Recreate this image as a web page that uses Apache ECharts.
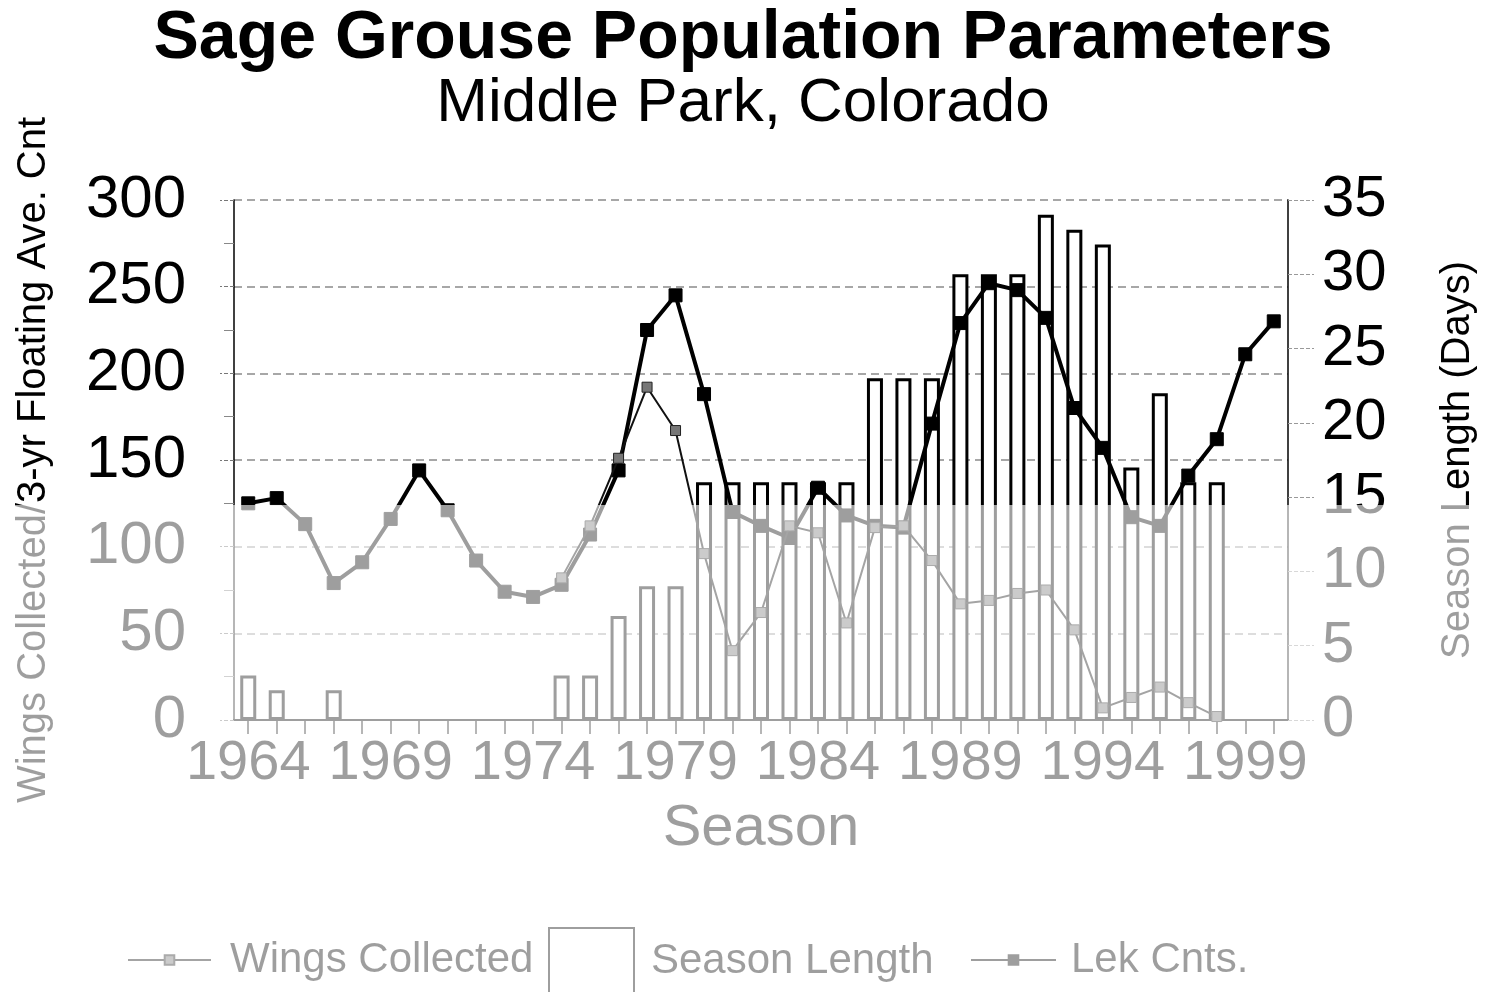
<!DOCTYPE html>
<html>
<head>
<meta charset="utf-8">
<script src="https://cdn.jsdelivr.net/npm/echarts@6/dist/echarts.min.js"></script>
<style>
html,body{margin:0;padding:0;background:#fff;}
#chart{width:1486px;height:992px;}
</style>
</head>
<body>
<div id="chart"></div>
<script>
var seasons = ['1964','1965','1966','1967','1968','1969','1970','1971','1972','1973','1974','1975','1976','1977','1978','1979','1980','1981','1982','1983','1984','1985','1986','1987','1988','1989','1990','1991','1992','1993','1994','1995','1996','1997','1998','1999','2000'];
var seasonLength = [3,2,null,2,null,null,null,null,null,null,null,3,3,7,9,9,16,16,16,16,16,16,23,23,23,30,30,30,34,33,32,17,22,16,16,null,null];
var lekCnts = [125,128,113,79,91,116,144,121,92,74,71,78,107,144,225,245,188,120,112,105,134,118,112,111,171,229,252,248,232,180,157,117,112,141,162,211,230];
var wingsCollected = [null,null,null,null,null,null,null,null,null,null,null,82,112,151,192,167,96,40,62,112,108,56,111,112,92,67,69,73,75,52,7,13,19,10,2,null,null];

var FONT = 'Liberation Sans, Arial, sans-serif';
var chart = echarts.init(document.getElementById('chart'));
var option = {
  backgroundColor: '#fff',
  animation: false,
  title: {
    text: 'Sage Grouse Population Parameters',
    subtext: 'Middle Park, Colorado',
    left: 'center',
    top: 0,
    itemGap: 0,
    textStyle: {fontFamily: FONT, fontSize: 68, fontWeight: 'bold', color: '#000'},
    subtextStyle: {fontFamily: FONT, fontSize: 62, color: '#000'}
  },
  legend: [
    {data: ['Wings Collected'], left: 122, top: 934, itemWidth: 83, itemHeight: 12,
     textStyle: {fontFamily: FONT, fontSize: 42, color: '#000', padding: [0,0,0,14]}},
    {data: [{name: 'Season Length', icon: 'rect'}], left: 543, top: 922, itemWidth: 85, itemHeight: 66,
     textStyle: {fontFamily: FONT, fontSize: 42, color: '#000', padding: [0,0,0,12]}},
    {data: ['Lek Cnts.'], left: 965, top: 934, itemWidth: 85, itemHeight: 12,
     textStyle: {fontFamily: FONT, fontSize: 42, color: '#000', padding: [0,0,0,10]}}
  ],
  grid: {left: 234, right: 196, top: 200, bottom: 272, containLabel: false},
  xAxis: [
    {type: 'category', data: seasons, position: 'bottom',
     name: 'Season', nameLocation: 'middle', nameGap: 80,
     nameTextStyle: {fontFamily: FONT, fontSize: 58, color: '#000'},
     axisLine: {lineStyle: {color: '#000', width: 2}},
     axisTick: {show: true, interval: 0, alignWithLabel: true, length: 14, lineStyle: {color: '#000', width: 1.5}},
     axisLabel: {interval: 4, fontFamily: FONT, fontSize: 56, color: '#000', margin: 16}},
    {type: 'category', data: seasons, position: 'top',
     axisLine: {show: true, lineStyle: {color: '#000', width: 2}},
     axisTick: {show: false}, axisLabel: {show: false}}
  ],
  yAxis: [
    {type: 'value', min: 0, max: 300, interval: 50, position: 'left',
     name: 'Wings Collected/3-yr Floating Ave. Cnt', nameLocation: 'middle', nameGap: 180,
     nameTextStyle: {fontFamily: FONT, fontSize: 40, color: '#000'},
     axisLine: {show: true, lineStyle: {color: '#000', width: 1.5}},
     axisTick: {show: true, length: 14, lineStyle: {color: '#777', type: 'dashed'}},
     minorTick: {show: true, splitNumber: 2, length: 10, lineStyle: {color: '#888'}},
     axisLabel: {fontFamily: FONT, fontSize: 60, color: '#000', margin: 48},
     splitLine: {show: true, lineStyle: {color: '#8a8a8a', width: 1.5, type: [8, 5]}}},
    {type: 'value', min: 0, max: 35, interval: 5, position: 'right',
     name: 'Season Length (Days)', nameLocation: 'middle', nameGap: 150, nameRotate: 90,
     nameTextStyle: {fontFamily: FONT, fontSize: 40, color: '#000'},
     axisLine: {show: true, lineStyle: {color: '#000', width: 1.5}},
     axisTick: {show: true, inside: false, length: 26, lineStyle: {color: '#999', type: 'dashed'}},
     axisLabel: {fontFamily: FONT, fontSize: 58, color: '#000', margin: 34},
     splitLine: {show: false}}
  ],
  series: [
    {name: 'Season Length', type: 'bar', yAxisIndex: 1, data: seasonLength, barWidth: 16,
     itemStyle: {color: '#fff', borderColor: '#000', borderWidth: 3}, z: 1},
    {name: 'Lek Cnts.', type: 'line', yAxisIndex: 0, data: lekCnts,
     symbol: 'rect', symbolSize: 13, showAllSymbol: true,
     lineStyle: {color: '#000', width: 4}, itemStyle: {color: '#000', borderColor: '#000', borderWidth: 1}, z: 3},
    {name: 'Wings Collected', type: 'line', yAxisIndex: 0, data: wingsCollected,
     symbol: 'rect', symbolSize: 10, showAllSymbol: true,
     lineStyle: {color: '#111', width: 2}, itemStyle: {color: '#777', borderColor: '#222', borderWidth: 1}, z: 4}
  ],
  graphic: {elements: [
    {type: 'rect', silent: true, z: 1000, left: 0, top: 505,
     shape: {width: 1486, height: 487}, style: {fill: 'rgba(255,255,255,0.62)'}}
  ]}
};
chart.setOption(option);
</script>
</body>
</html>
